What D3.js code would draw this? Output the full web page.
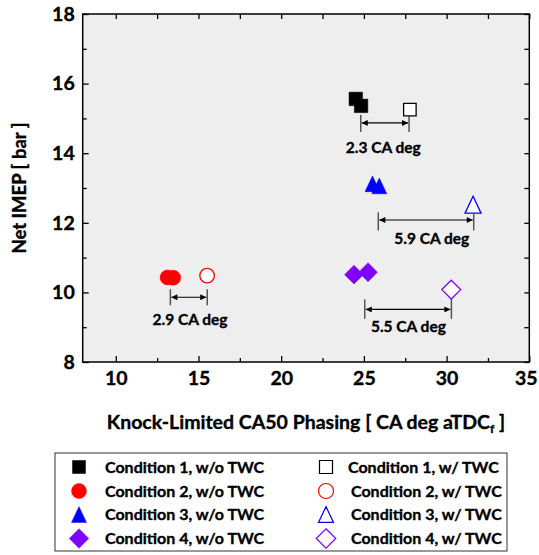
<!DOCTYPE html>
<html>
<head>
<meta charset="utf-8">
<script src="https://cdn.jsdelivr.net/npm/d3@7"></script>
<style>
  body { margin: 0; background: #fff; }
  text { font-family: Lato, "Open Sans", sans-serif; font-weight: bold; fill: #000; stroke: #000; stroke-width: 0.35px; }
</style>
</head>
<body>
<div id="chart"></div>
<script>
// values
var xTicks = [10, 15, 20, 25, 30, 35];
var yTicks = [8, 10, 12, 14, 16, 18];

var c1_wo = [[24.51, 15.56], [24.83, 15.36]];
var c1_w  = [[27.78, 15.25]];
var c2_wo = [[13.13, 10.43], [13.47, 10.42]];
var c2_w  = [[15.52, 10.48]];
var c3_wo = [[25.52, 13.12], [25.93, 13.06]];
var c3_w  = [[31.60, 12.52]];
var c4_wo = [[24.40, 10.51], [25.25, 10.58]];
var c4_w  = [[30.28, 10.08]];

var legendLabels = [
  "Condition 1, w/o TWC", "Condition 1, w/ TWC",
  "Condition 2, w/o TWC", "Condition 2, w/ TWC",
  "Condition 3, w/o TWC", "Condition 3, w/ TWC",
  "Condition 4, w/o TWC", "Condition 4, w/ TWC"
];

// gap brackets: x from, x to, arrow y, top y (left,right), bottom y
var gapLabels = ["2.3 CA deg", "2.9 CA deg", "5.9 CA deg", "5.5 CA deg"];
var gapX1 = [24.81, 13.30, 25.87, 25.05];
var gapX2 = [27.73, 15.53, 31.64, 30.29];
var gapArrowY = [14.87, 9.86, 12.08, 9.51];
var gapTopL = [15.10, 10.09, 12.30, 9.80];
var gapTopR = [15.08, 10.09, 12.25, 9.83];
var gapBot = [14.61, 9.63, 11.78, 9.24];
var gapLabelX = [26.17, 14.49, 29.10, 27.69];
var gapLabelY = [14.15, 9.21, 11.55, 9.01];

var width = 539, height = 555;
var svg = d3.select("#chart").append("svg")
    .attr("width", width)
    .attr("height", height);

var x = d3.scaleLinear().domain([8, 35]).range([82.7, 529.3]);
var y = d3.scaleLinear().domain([8, 18]).range([362, 14]);

// plot background
svg.append("rect")
    .attr("x", x(8)).attr("y", y(18))
    .attr("width", x(35) - x(8)).attr("height", y(8) - y(18))
    .attr("fill", "#eeeeee");

function axisStyle(g) {
  g.select(".domain").remove();
  g.selectAll("line").attr("stroke", "#000").attr("stroke-width", 1.3);
  g.selectAll("text").style("font-size", "19.5px");
}

// minor + major ticks, drawn inward on all four sides
var xMinor = d3.range(12.5, 35, 5);
var yMinor = d3.range(9, 18, 2);

svg.append("g").attr("transform", "translate(0," + y(8) + ")")
    .call(d3.axisBottom(x).tickValues(xTicks).tickSize(-6).tickPadding(9).tickFormat(d3.format("d")))
    .call(axisStyle)
    .call(function(g) { g.selectAll("text").filter(function(d) { return d == 35; }).attr("dx", -3.5); });
svg.append("g").attr("transform", "translate(0," + y(8) + ")")
    .call(d3.axisBottom(x).tickValues(xMinor).tickSize(-4).tickFormat(""))
    .call(axisStyle);
svg.append("g").attr("transform", "translate(0," + y(18) + ")")
    .call(d3.axisTop(x).tickValues(xTicks.concat(xMinor)).tickSize(-5).tickFormat(""))
    .call(axisStyle);

svg.append("g").attr("transform", "translate(" + x(8) + ",0)")
    .call(d3.axisLeft(y).tickValues(yTicks).tickSize(-6).tickPadding(8).tickFormat(d3.format("d")))
    .call(axisStyle);
svg.append("g").attr("transform", "translate(" + x(8) + ",0)")
    .call(d3.axisLeft(y).tickValues(yMinor).tickSize(-4).tickFormat(""))
    .call(axisStyle);
svg.append("g").attr("transform", "translate(" + x(35) + ",0)")
    .call(d3.axisRight(y).tickValues(yTicks.concat(yMinor)).tickSize(-5).tickFormat(""))
    .call(axisStyle);

// frame
svg.append("rect")
    .attr("x", x(8)).attr("y", y(18))
    .attr("width", x(35) - x(8)).attr("height", y(8) - y(18))
    .attr("fill", "none").attr("stroke", "#000").attr("stroke-width", 1.5);

// marker shapes as paths centred on 0,0
function shapePath(kind, s) {
  var h = s / 2;
  if (kind == "square") return "M" + -h + "," + -h + "h" + s + "v" + s + "h" + -s + "Z";
  if (kind == "circle") return "M" + h + ",0A" + h + "," + h + " 0 1,1 " + -h + ",0A" + h + "," + h + " 0 1,1 " + h + ",0Z";
  if (kind == "triangle") return "M0," + (-h * 1.05) + "L" + h + "," + (h * 1.05) + "L" + -h + "," + (h * 1.05) + "Z";
  if (kind == "diamond") { var d = h * 1.3; return "M0," + -d + "L" + d + ",0L0," + d + "L" + -d + ",0Z"; }
}

var series = [
  {pts: c1_wo, kind: "square", color: "#000000", filled: true, size: 13.5},
  {pts: c1_w,  kind: "square", color: "#000000", filled: false, size: 12.5},
  {pts: c2_wo, kind: "circle", color: "#ff0000", filled: true, size: 15},
  {pts: c2_w,  kind: "circle", color: "#ff0000", filled: false, size: 14.5},
  {pts: c3_wo, kind: "triangle", color: "#0000ff", filled: true, size: 15},
  {pts: c3_w,  kind: "triangle", color: "#0000ff", filled: false, size: 16},
  {pts: c4_wo, kind: "diamond", color: "#7f00ff", filled: true, size: 14.5},
  {pts: c4_w,  kind: "diamond", color: "#7f00ff", filled: false, size: 14.5}
];

// gap brackets
svg.append("defs").append("marker")
    .attr("id", "arr")
    .attr("viewBox", "0 0 10 10")
    .attr("refX", 10).attr("refY", 5)
    .attr("markerWidth", 8).attr("markerHeight", 6)
    .attr("markerUnits", "userSpaceOnUse")
    .attr("orient", "auto-start-reverse")
  .append("path")
    .attr("d", "M0,0L10,5L0,10Z")
    .attr("fill", "#000");

var gaps = gapLabels.map(function(t, i) { return i; });
var gg = svg.append("g");
gg.selectAll("line.vl").data(gaps).enter().append("line")
    .attr("x1", function(i) { return x(gapX1[i]); })
    .attr("x2", function(i) { return x(gapX1[i]); })
    .attr("y1", function(i) { return y(gapTopL[i]); })
    .attr("y2", function(i) { return y(gapBot[i]); })
    .attr("stroke", "#555").attr("stroke-width", 1.5);
gg.selectAll("line.vr").data(gaps).enter().append("line")
    .attr("x1", function(i) { return x(gapX2[i]); })
    .attr("x2", function(i) { return x(gapX2[i]); })
    .attr("y1", function(i) { return y(gapTopR[i]); })
    .attr("y2", function(i) { return y(gapBot[i]); })
    .attr("stroke", "#555").attr("stroke-width", 1.5);
gg.selectAll("line.ar").data(gaps).enter().append("line")
    .attr("x1", function(i) { return x(gapX1[i]) + 1; })
    .attr("x2", function(i) { return x(gapX2[i]) - 1; })
    .attr("y1", function(i) { return y(gapArrowY[i]); })
    .attr("y2", function(i) { return y(gapArrowY[i]); })
    .attr("stroke", "#000").attr("stroke-width", 1.2)
    .attr("marker-start", "url(#arr)")
    .attr("marker-end", "url(#arr)");
gg.selectAll("text").data(gaps).enter().append("text")
    .attr("x", function(i) { return x(gapLabelX[i]); })
    .attr("y", function(i) { return y(gapLabelY[i]); })
    .attr("dy", "0.35em")
    .attr("text-anchor", "middle")
    .style("font-size", "15.5px")
    .text(function(i) { return gapLabels[i]; });

// points
series.forEach(function(s) {
  svg.append("g").selectAll("path").data(s.pts).enter().append("path")
      .attr("transform", function(d) { return "translate(" + x(d[0]) + "," + y(d[1]) + ")"; })
      .attr("d", shapePath(s.kind, s.size))
      .attr("fill", s.filled ? s.color : "#fff")
      .attr("stroke", s.color)
      .attr("stroke-width", s.filled ? 0.5 : 1.3);
});

// axis titles
svg.append("text")
    .attr("transform", "translate(20," + ((y(8) + y(18)) / 2) + ") rotate(-90)")
    .attr("text-anchor", "middle")
    .attr("dy", "0.35em")
    .style("font-size", "18.5px")
    .text("Net IMEP [ bar ]");

var xt = svg.append("text")
    .attr("x", (x(8) + x(35)) / 2)
    .attr("y", 429)
    .attr("text-anchor", "middle")
    .style("font-size", "19.5px");
xt.append("tspan").text("Knock-Limited CA50 Phasing [ CA deg aTDC");
xt.append("tspan").attr("dy", 4).style("font-size", "12px").text("f");
xt.append("tspan").attr("dy", -4).text(" ]");

// legend
var lg = svg.append("g");
lg.append("rect")
    .attr("x", 55).attr("y", 453)
    .attr("width", 452).attr("height", 98)
    .attr("fill", "#fff").attr("stroke", "#333").attr("stroke-width", 1);

var legRows = [467, 491, 514.5, 538.5];
var legCols = [79, 326];
var legText = [105, 351];

series.forEach(function(s, i) {
  var row = Math.floor(i / 2), col = i % 2;
  var item = lg.append("g");
  item.append("path")
      .attr("transform", "translate(" + legCols[col] + "," + legRows[row] + ")")
      .attr("d", shapePath(s.kind, s.kind == "square" ? 13 : 15))
      .attr("fill", s.filled ? s.color : "#fff")
      .attr("stroke", s.color)
      .attr("stroke-width", s.filled ? 0.5 : 1.2);
  item.append("text")
      .attr("x", legText[col] - (i == 1 ? 3 : 0))
      .attr("y", legRows[row])
      .attr("dy", "0.35em")
      .style("font-size", "16px")
      .text(legendLabels[i]);
});
</script>
</body>
</html>
